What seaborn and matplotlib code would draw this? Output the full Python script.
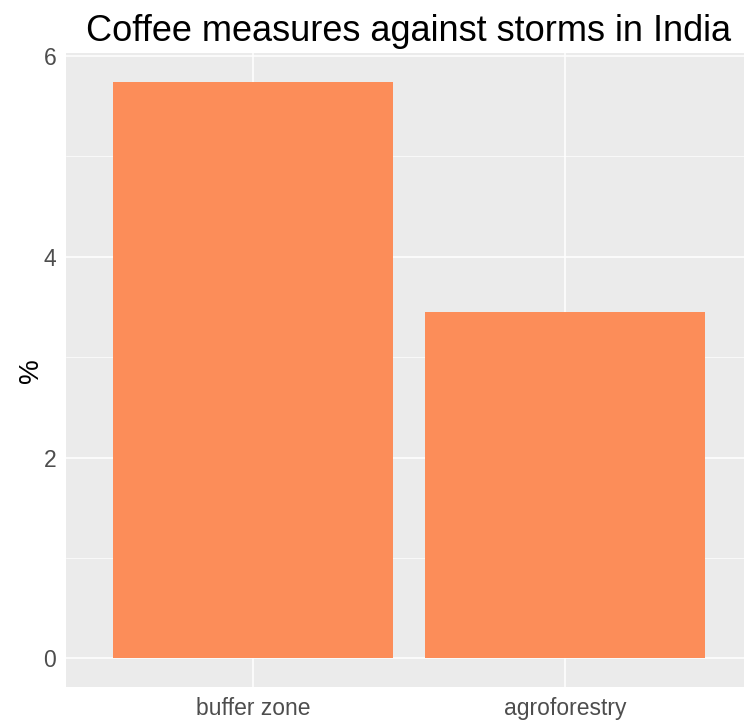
import pandas as pd
import matplotlib.pyplot as plt
import seaborn as sns

measures = ['buffer zone', 'agroforestry']
percent = [5.74, 3.45]
df = pd.DataFrame({'measure': measures, 'percent': percent})

sns.set_style('darkgrid', {'axes.facecolor': '#EBEBEB', 'grid.color': 'white'})
plt.rcParams['font.family'] = ['Liberation Sans', 'DejaVu Sans']

fig = plt.figure(figsize=(7.44, 7.2), dpi=100)
# panel runs slightly past the right edge, like the cropped original
ax = fig.add_axes([0.0887, 0.0458, 0.922, 0.880])
sns.barplot(x='measure', y='percent', data=df, color='#FC8D59', saturation=1,
            width=0.9, edgecolor='none', linewidth=0, ax=ax)

ymax = max(percent)
ax.set_ylim(-0.05 * ymax, ymax * 1.05)
ax.set_xlim(-0.6, len(measures) - 0.4)
ax.set_yticks([0, 2, 4, 6])
ax.set_yticks([1, 3, 5], minor=True)
ax.grid(which='major', color='white', linewidth=1.1)
ax.grid(which='minor', axis='y', color='white', linewidth=0.5)
ax.set_axisbelow(True)
for s in ax.spines.values():
    s.set_visible(False)
ax.tick_params(axis='both', which='major', length=4, width=1, color='#333333',
               labelcolor='#4D4D4D', labelsize=16.5, pad=3)
ax.tick_params(axis='y', which='minor', length=0)

ax.set_xlabel('')
ax.set_ylabel('%', fontsize=20, color='black', labelpad=0)
ax.set_title('Coffee measures against storms in India', fontsize=26,
             color='black', pad=9)

fig.savefig('out.png', dpi=100)
